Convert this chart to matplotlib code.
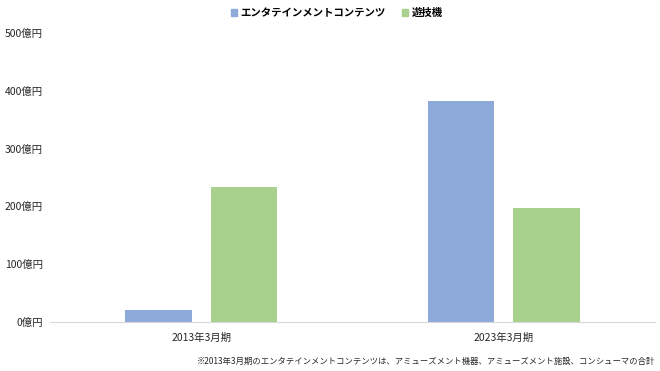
import numpy as np
import matplotlib
matplotlib.use("Agg")
import matplotlib.pyplot as plt
from matplotlib.patches import Patch

plt.rcParams['font.family'] = ['Noto Sans CJK JP', 'DejaVu Sans']

# --- data ---
categories = ["2013年3月期", "2023年3月期"]
series_names = ["エンタテインメントコンテンツ", "遊技機"]
entertainment = [21, 383]
yugiki = [233, 198]
yticks = [0, 100, 200, 300, 400, 500]
ytick_labels = [f"{v}億円" for v in yticks]
note = "※2013年3月期のエンタテインメントコンテンツは、アミューズメント機器、アミューズメント施設、コンシューマの合計"

blue = "#8eaadb"
green = "#a9d18e"

fig = plt.figure(figsize=(6.6, 3.71), dpi=100)
ax = fig.add_axes([50 / 660, 49 / 371, 605 / 660, 289 / 371])

x = np.arange(len(categories))
w = 0.22
off = 0.142
ax.bar(x - off, entertainment, width=w, color=blue)
ax.bar(x + off, yugiki, width=w, color=green)

ax.set_xlim(-0.5, 1.5)
ax.set_ylim(0, 500)
ax.set_yticks(yticks)
ax.set_yticklabels(ytick_labels, fontsize=7.5, color="#262626")
ax.set_xticks(x)
ax.set_xticklabels(categories, fontsize=7.5, color="#262626")
ax.tick_params(length=0, pad=8)
ax.tick_params(axis='y', pad=5)
for s in ["top", "right", "left"]:
    ax.spines[s].set_visible(False)
ax.spines["bottom"].set_color("#d9d9d9")
ax.spines["bottom"].set_linewidth(0.8)

handles = [Patch(color=blue), Patch(color=green)]
fig.legend(handles, series_names, loc="center", bbox_to_anchor=(0.51, 0.965),
           ncol=2, frameon=False, handlelength=0.6, handleheight=0.6,
           handletextpad=0.3, columnspacing=1.6,
           prop={'size': 7.5, 'weight': 'bold', 'family': 'Noto Sans CJK JP'})

fig.text(655 / 660, 1 - 361 / 371, note, ha="right", va="center",
         fontsize=6, color="#262626")

fig.savefig("out.png", dpi=100)
